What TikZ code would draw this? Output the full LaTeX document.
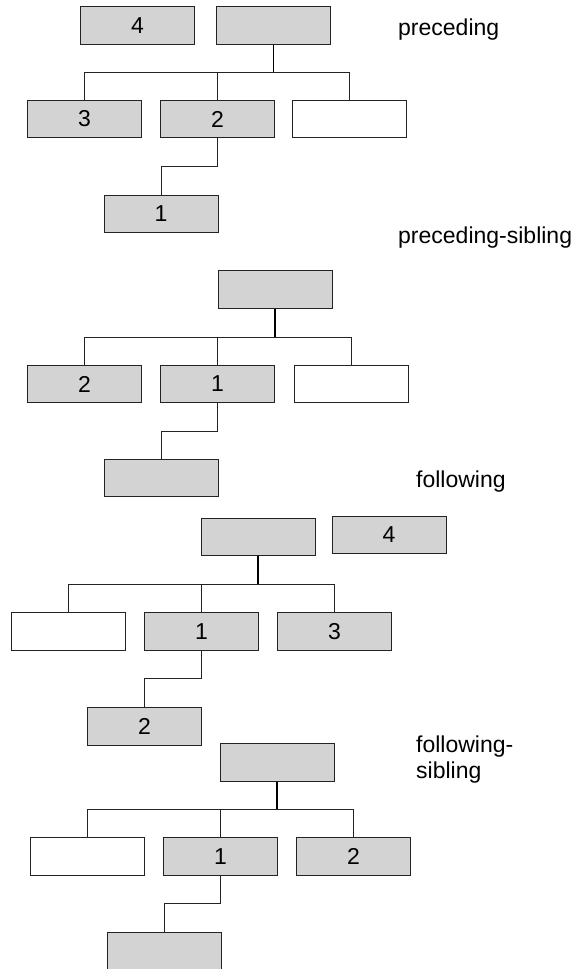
\documentclass[tikz,border=0pt]{standalone}
\usepackage{fontspec}
\setmainfont{Liberation Sans}
\usepackage{tikz}

\definecolor{boxgray}{RGB}{211,211,211}
\definecolor{edgegray}{RGB}{35,35,35}

\tikzset{
  axisbox/.style={draw=edgegray,line width=1pt,minimum width=114pt,minimum height=37.5pt,inner sep=0pt},
  hit/.style={axisbox,fill=boxgray},
  miss/.style={axisbox,fill=white},
  axisname/.style={anchor=base west,inner sep=0pt,align=left},
  branch/.style={draw=edgegray,line width=0.9pt},
  trunk/.style={draw=black,line width=1.8pt}
}

\begin{document}
\begin{tikzpicture}[x=1pt,y=-1pt,font=\fontsize{23}{26}\selectfont]
        \path[use as bounding box] (0,0) rectangle (576,969);
        \clip (0,0) rectangle (576,969);

        % preceding
        \node[hit] (P4) at (137.5,25.5) {4};
        \node[hit] (Pctx) at (273.5,25.5) {};
        \node[hit] (P3) at (84.5,119) {3};
        \node[hit] (P2) at (217.5,119) {2};
        \node[miss] (Pw) at (349.5,119) {};
        \node[hit] (P1) at (161,214) {1};
        \node[axisname] (Plab) at (398,35) {preceding};
        \draw[trunk] (Pctx.south) -- ++(0,28) coordinate (Pbar);
        \draw[branch] (Pbar) -| (P3.north);
        \draw[branch] (Pbar) -| (P2.north);
        \draw[branch] (Pbar) -| (Pw.north);
        \draw[branch] (P2.south) -- ++(0,28) -| (P1.north);

        % preceding-sibling
        \node[axisname] (PSlab) at (398,243) {preceding-sibling};
        \node[hit] (PSctx) at (275,289.5) {};
        \node[hit] (PS2) at (84.5,384) {2};
        \node[hit] (PS1) at (217.5,384) {1};
        \node[miss] (PSw) at (351,384) {};
        \node[hit] (PSk) at (161,478) {};
        \draw[trunk] (PSctx.south) -- ++(0,28.5) coordinate (PSbar);
        \draw[branch] (PSbar) -| (PS2.north);
        \draw[branch] (PSbar) -| (PS1.north);
        \draw[branch] (PSbar) -| (PSw.north);
        \draw[branch] (PS1.south) -- ++(0,28) -| (PSk.north);

        % following
        \node[axisname] (Flab) at (416,487) {following};
        \node[hit] (Fctx) at (258,537) {};
        \node[hit] (F4) at (389,535) {4};
        \node[miss] (Fw) at (68,631.5) {};
        \node[hit] (F1) at (201.5,631.5) {1};
        \node[hit] (F3) at (334.5,631.5) {3};
        \node[hit] (F2) at (144.5,726.5) {2};
        \draw[trunk] (Fctx.south) -- ++(0,28) coordinate (Fbar);
        \draw[branch] (Fbar) -| (Fw.north);
        \draw[branch] (Fbar) -| (F1.north);
        \draw[branch] (Fbar) -| (F3.north);
        \draw[branch] (F1.south) -- ++(0,27.5) -| (F2.north);

        % following-sibling
        \node[axisname] (FSlab) at (416,778) {following-\\sibling};
        \node[hit] (FSctx) at (277,762.5) {};
        \node[miss] (FSw) at (87,856.5) {};
        \node[hit] (FS1) at (220.5,856.5) {1};
        \node[hit] (FS2) at (353.5,856.5) {2};
        \node[hit] (FSk) at (164,951) {};
        \draw[trunk] (FSctx.south) -- ++(0,27.5) coordinate (FSbar);
        \draw[branch] (FSbar) -| (FSw.north);
        \draw[branch] (FSbar) -| (FS1.north);
        \draw[branch] (FSbar) -| (FS2.north);
        \draw[branch] (FS1.south) -- ++(0,27.5) -| (FSk.north);
      \end{tikzpicture}
\end{document}
